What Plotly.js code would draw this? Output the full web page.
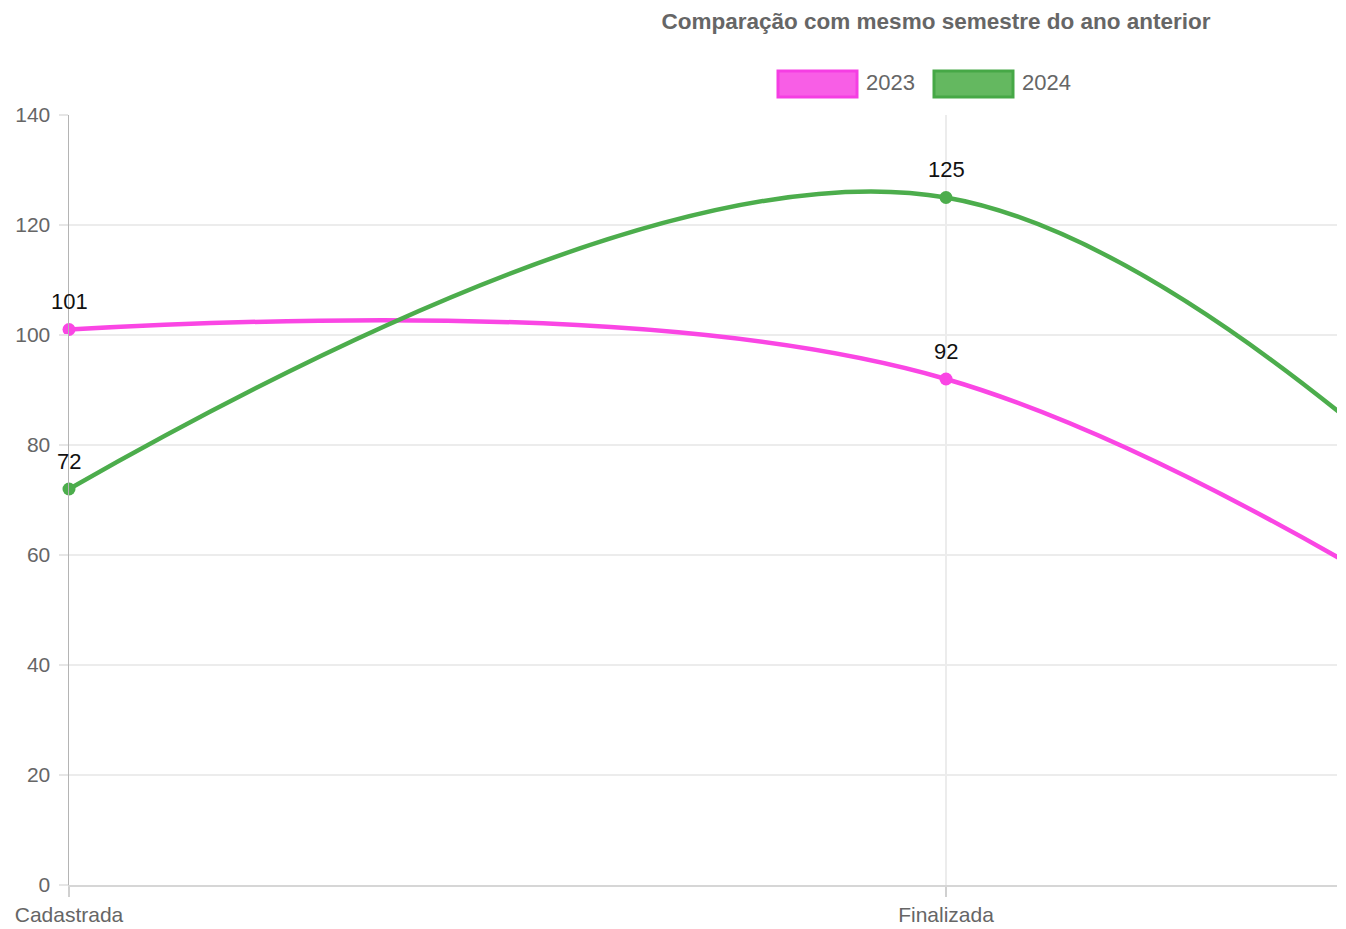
<!DOCTYPE html>
<html>
<head>
<meta charset="utf-8">
<script src="https://cdn.plot.ly/plotly-3.0.1.min.js"></script>
<style>
  html, body { margin: 0; padding: 0; background: #fff; overflow: hidden; }
  #chart { width: 1346px; height: 929px; }
</style>
</head>
<body>
<div id="chart"></div>
<script>
// ---- data ----
const categories = ["Cadastrada", "Finalizada", "Cancelada"];
const series2023 = [101, 92, 3];
const series2024 = [72, 125, 0];
const seriesNames = ["2023", "2024"];
const yTicks = [0, 20, 40, 60, 80, 100, 120, 140];

// ---- style / geometry ----
const W = 1346, H = 929;
const M = { l: 69, r: 9, t: 115, b: 44 };
const PW = W - M.l - M.r, PH = H - M.t - M.b;
const CAT_PX = 877;                 // pixel spacing between categories (chart is cropped on the right)
const XMAX = PW / CAT_PX;
const px2x = p => (p - M.l) / PW;
const px2y = p => (H - M.b - p) / PH;

const pink = "#fa46e4", pinkFill = "rgba(247,80,228,0.92)";
const green = "#4cad4c", greenFill = "rgba(100,184,96,1)";
const font = "Liberation Sans, Arial, Helvetica, sans-serif";

const seriesList = [
  { name: seriesNames[0], y: series2023, color: pink },
  { name: seriesNames[1], y: series2024, color: green }
];

const data = [];
seriesList.forEach(s => {
  data.push({
    type: "scatter", mode: "lines", name: s.name,
    x: categories, y: s.y,
    line: { color: s.color, width: 4.5, shape: "spline", smoothing: 1.0 },
    cliponaxis: true, hoverinfo: "skip"
  });
  data.push({
    type: "scatter", mode: "markers", name: s.name,
    x: categories, y: s.y,
    marker: { color: s.color, size: 13 },
    cliponaxis: false, hoverinfo: "x+y"
  });
});

const shapes = [], annotations = [];

// value labels (only points within the visible x range)
seriesList.forEach(s => {
  s.y.forEach((v, i) => {
    if (i > XMAX) return;
    annotations.push({ xref: "x", yref: "y", x: categories[i], y: v,
      text: String(v), showarrow: false, yanchor: "middle", yshift: 28,
      font: { family: font, size: 22, color: "#111" } });
  });
});

// legend boxes
const legendBoxes = [
  { name: seriesNames[0], x0: 778, x1: 857, fill: pinkFill, line: "#f53ee3" },
  { name: seriesNames[1], x0: 934, x1: 1013, fill: greenFill, line: "#46a846" }
];
legendBoxes.forEach(b => {
  shapes.push({ type: "rect", xref: "paper", yref: "paper",
    x0: px2x(b.x0), x1: px2x(b.x1), y0: px2y(97), y1: px2y(71),
    fillcolor: b.fill, line: { color: b.line, width: 3 } });
  annotations.push({ xref: "paper", yref: "paper", x: px2x(b.x1 + 7), y: px2y(83),
    xanchor: "left", yanchor: "middle", showarrow: false, text: b.name,
    font: { family: font, size: 22, color: "#666" } });
});

const layout = {
  width: W, height: H, margin: M,
  paper_bgcolor: "#fff", plot_bgcolor: "#fff",
  showlegend: false,
  title: { text: "<b>Comparação com mesmo semestre do ano anterior</b>",
    x: 936 / W, xref: "container", xanchor: "center",
    y: 1 - 21 / H, yref: "container", yanchor: "middle",
    font: { family: font, size: 22.5, color: "#666" } },
  xaxis: {
    type: "category", range: [0, XMAX],
    showgrid: true, gridcolor: "#ececec", gridwidth: 1.5,
    showline: true, linecolor: "#d6d6d6", linewidth: 2,
    ticks: "outside", ticklen: 10, tickcolor: "#d0d0d0", tickwidth: 1.5,
    tickfont: { family: font, size: 21, color: "#666" },
    zeroline: false, fixedrange: true
  },
  yaxis: {
    range: [0, 140], tickvals: yTicks, ticktext: yTicks.map(String),
    showgrid: true, gridcolor: "#ececec", gridwidth: 1.5,
    showline: true, linecolor: "#b4b4b4", linewidth: 1.5,
    ticks: "outside", ticklen: 9, tickcolor: "#e6e6e6", tickwidth: 1.5,
    ticklabelstandoff: 4,
    tickfont: { family: font, size: 21, color: "#666" },
    zeroline: false, fixedrange: true
  },
  shapes: shapes, annotations: annotations
};

Plotly.newPlot("chart", data, layout, { displayModeBar: false, staticPlot: true });
</script>
</body>
</html>
